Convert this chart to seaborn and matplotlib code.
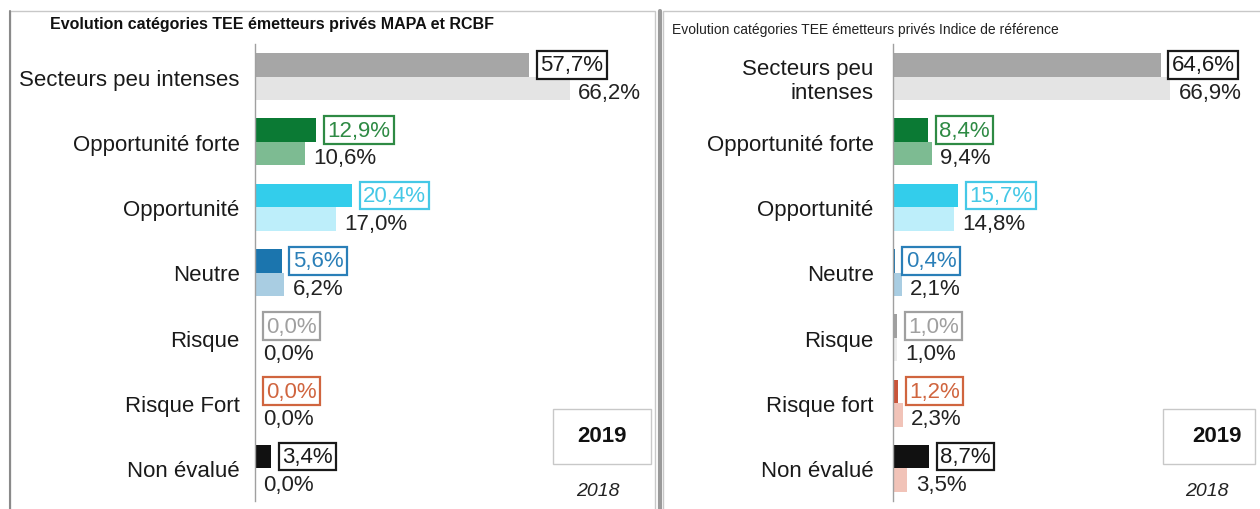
import numpy as np
import pandas as pd
import matplotlib
matplotlib.use('Agg')
import matplotlib.pyplot as plt
import seaborn as sns
from matplotlib.patches import Rectangle
from matplotlib.lines import Line2D

# Données
categories_left = ['Secteurs peu intenses', 'Opportunité forte', 'Opportunité', 'Neutre',
                   'Risque', 'Risque Fort', 'Non évalué']
categories_right = ['Secteurs peu\nintenses', 'Opportunité forte', 'Opportunité', 'Neutre',
                    'Risque', 'Risque fort', 'Non évalué']
years = ['2019', '2018']
left_2019 = [57.7, 12.9, 20.4, 5.6, 0.0, 0.0, 3.4]
left_2018 = [66.2, 10.6, 17.0, 6.2, 0.0, 0.0, 0.0]
right_2019 = [64.6, 8.4, 15.7, 0.4, 1.0, 1.2, 8.7]
right_2018 = [66.9, 9.4, 14.8, 2.1, 1.0, 2.3, 3.5]

title_left = 'Evolution catégories TEE émetteurs privés MAPA et RCBF'
title_right = 'Evolution catégories TEE émetteurs privés Indice de référence'

colors_2019 = ['#a6a6a6', '#0b7a34', '#33cdeb', '#1b75ae', '#a0a0a0', '#c9553a', '#111111']
colors_2018 = ['#e4e4e4', '#7dbb92', '#bdeefa', '#a9cde2', '#ececec', '#f1c3b8', '#f1c3b8']
label_colors = ['#1a1a1a', '#2e8a44', '#45c8e6', '#2a7fb8', '#a0a0a0', '#d0653f', '#1a1a1a']

W, H = 1260, 510


def fmt(v):
    return f'{v:.1f}'.replace('.', ',') + '%'


def fig_rect(x0, y0, x1, y1):
    # coordonnées en pixels (origine en haut à gauche) -> fraction de figure
    return [x0 / W, 1 - y1 / H, (x1 - x0) / W, (y1 - y0) / H]


def draw_panel(ax, cats, v19, v18, xmax, pad):
    df = pd.DataFrame({
        'categorie': cats * 2,
        'annee': [years[0]] * len(cats) + [years[1]] * len(cats),
        'valeur': v19 + v18,
    })
    sns.barplot(data=df, x='valeur', y='categorie', hue='annee', hue_order=years,
                order=cats, orient='h', width=0.72, saturation=1, legend=False,
                err_kws={'linewidth': 0}, ax=ax)

    cont19, cont18 = ax.containers[0], ax.containers[1]
    for bar, c in zip(cont19, colors_2019):
        bar.set_facecolor(c)
        bar.set_edgecolor('none')
    for bar, c in zip(cont18, colors_2018):
        bar.set_facecolor(c)
        bar.set_edgecolor('none')

    # étiquettes 2019 encadrées
    for bar, v, lc in zip(cont19, v19, label_colors):
        y = bar.get_y() + bar.get_height() / 2
        ax.annotate(fmt(v), xy=(bar.get_width(), y), xytext=(8, 0),
                    textcoords='offset points', ha='left', va='center',
                    fontsize=16, color=lc,
                    bbox=dict(boxstyle='square,pad=0.15', fc='white', ec=lc, lw=1.6))
    # étiquettes 2018
    for bar, v in zip(cont18, v18):
        y = bar.get_y() + bar.get_height() / 2
        ax.annotate(fmt(v), xy=(bar.get_width(), y), xytext=(6, -3),
                    textcoords='offset points', ha='left', va='center',
                    fontsize=16, color='#222222')

    ax.set_xlim(0, xmax)
    ax.set_ylim(len(cats) - 0.5, -0.5)
    ax.set_xticks([])
    ax.set_xlabel('')
    ax.set_ylabel('')
    for s in ['top', 'right', 'bottom']:
        ax.spines[s].set_visible(False)
    ax.spines['left'].set_color('#a0a0a0')
    ax.spines['left'].set_linewidth(1)
    ax.set_yticks(np.arange(-0.5, len(cats), 1), minor=True)
    ax.tick_params(axis='y', which='major', length=0, pad=pad, labelsize=16,
                   labelcolor='#1a1a1a')
    ax.tick_params(axis='y', which='minor', length=5, width=1, color='#a0a0a0')
    ax.set_facecolor('none')


sns.set_theme(style='white')
plt.rcParams['font.family'] = ['Liberation Sans', 'DejaVu Sans']

fig = plt.figure(figsize=(W / 100, H / 100), dpi=100)
fig.patch.set_facecolor('white')

# cadres des deux panneaux
fig.add_artist(Rectangle((10 / W, -0.05), (655 - 10) / W, 1 - 12 / H + 0.05,
                         transform=fig.transFigure, fill=False, ec='#c8c8c8', lw=1))
fig.add_artist(Line2D([10 / W, 10 / W], [-0.05, 1 - 12 / H], transform=fig.transFigure,
                      color='#8a8a8a', lw=1.5))
fig.add_artist(Rectangle((663 / W, -0.05), (1262 - 663) / W, 1 - 12 / H + 0.05,
                         transform=fig.transFigure, fill=False, ec='#c8c8c8', lw=1))
fig.add_artist(Line2D([660 / W, 660 / W], [-0.05, 1 - 12 / H], transform=fig.transFigure,
                      color='#9a9a9a', lw=3))

ax1 = fig.add_axes(fig_rect(255, 45, 640, 502))
ax2 = fig.add_axes(fig_rect(893, 45, 1245, 502))

draw_panel(ax1, categories_left, left_2019, left_2018, 81, 11)
draw_panel(ax2, categories_right, right_2019, right_2018, 85, 14)

fig.text(50 / W, 1 - 25 / H, title_left, fontsize=11.5, fontweight='bold',
         ha='left', va='center', color='#111111')
fig.text(672 / W, 1 - 30 / H, title_right, fontsize=10,
         ha='left', va='center', color='#222222')

# encadrés "2019" / "2018"
for x0, x1, xt19, xt18 in [(553, 651, 602, 598), (1163, 1255, 1217, 1207)]:
    fig.add_artist(Rectangle((x0 / W, 1 - 465 / H), (x1 - x0) / W, 55 / H,
                             transform=fig.transFigure, fill=False, ec='#c8c8c8', lw=1))
    fig.text(xt19 / W, 1 - 437 / H, years[0], fontsize=16, fontweight='bold',
             ha='center', va='center', color='#111111')
    fig.text(xt18 / W, 1 - 492 / H, years[1], fontsize=14, fontstyle='italic',
             ha='center', va='center', color='#222222')

fig.savefig('out.png', dpi=100, facecolor='white')
